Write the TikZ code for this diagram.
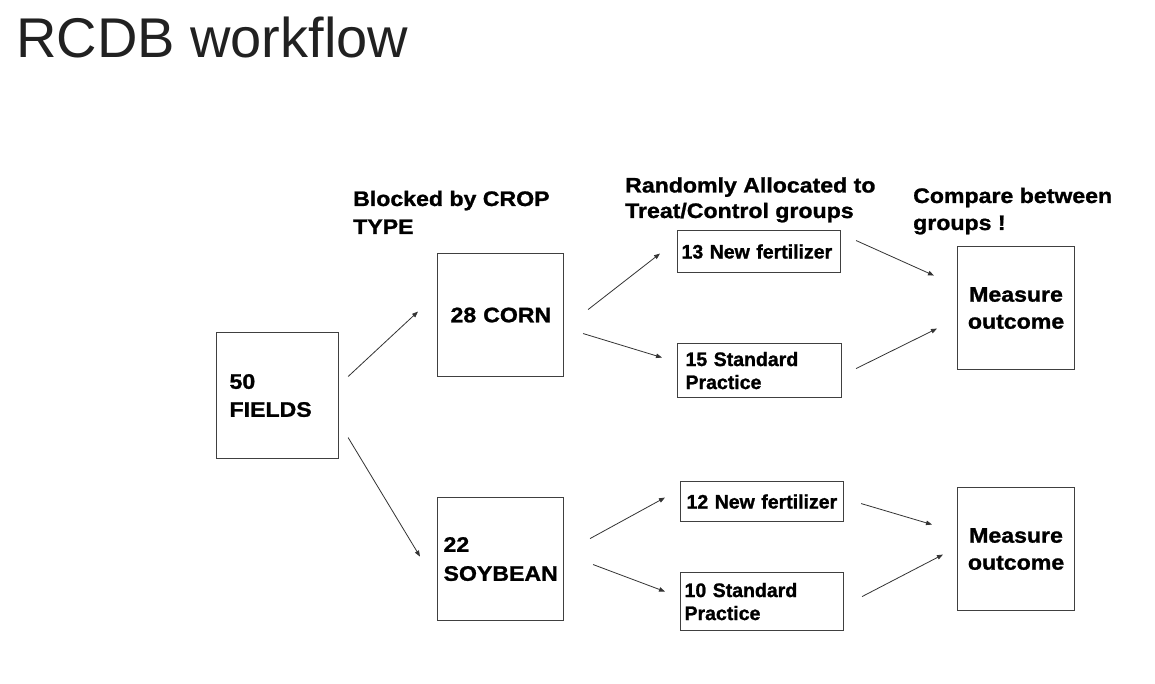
\documentclass[tikz,border=0pt]{standalone}
\usepackage{fontspec}
\setmainfont{Liberation Sans}[BoldFeatures={FakeBold=1.2}]
\newfontfamily\diagfont{Liberation Sans}[FakeStretch=1.1, BoldFeatures={FakeBold=1.2}]
\usetikzlibrary{arrows.meta}
\hyphenpenalty=10000

\begin{document}
\begin{tikzpicture}[x=1pt,y=-1pt]
    \useasboundingbox[fill=white] (0,0) rectangle (1155,684);
    \tikzset{BoxStyle/.style={draw=black!75, line width=1.1pt, inner ysep=0pt,
        align=left, anchor=north west,
        font=\diagfont\bfseries\fontsize{21}{28}\selectfont}}
    \tikzset{SmallStyle/.style={BoxStyle, font=\bfseries\fontsize{19.5}{23}\selectfont}}
    \tikzset{HeadStyle/.style={anchor=base west, inner sep=0pt, align=left,
        font=\diagfont\bfseries\fontsize{21}{28}\selectfont}}

    \node[anchor=base west, inner sep=0pt, text=black!87,
        font=\fontsize{56}{60}\selectfont] (title) at (16,58) {RCDB workflow};

    % headers (base = last line)
    \node[HeadStyle] (hblock) at (353,234) {Blocked by CROP\\TYPE};
    \node[HeadStyle, font=\diagfont\bfseries\fontsize{21}{25.5}\selectfont] (hrand) at (625,218) {Randomly Allocated to\\Treat/Control groups};
    \node[HeadStyle, font=\diagfont\bfseries\fontsize{21}{27}\selectfont] (hcomp) at (913,230) {Compare between\\groups !};

    \node[BoxStyle, text width=96pt, inner xsep=13pt, minimum height=126pt] (fields) at (216,332) {50\\FIELDS};
    \node[BoxStyle, text width=100pt, inner xsep=13pt, minimum height=123pt] (corn) at (437,253) {\mbox{28 CORN}};
    \node[BoxStyle, text width=114pt, inner xsep=6pt, minimum height=123pt,
        font=\diagfont\bfseries\fontsize{21}{29}\selectfont] (soy) at (437,497) {22\\SOYBEAN};

    \node[SmallStyle, text width=155pt, inner xsep=4pt, minimum height=42pt] (nf13) at (677,230) {\mbox{13 New fertilizer}};
    \node[SmallStyle, text width=148pt, inner xsep=8pt, minimum height=54pt] (sp15) at (677,343) {15 Standard\\Practice};
    \node[SmallStyle, text width=151pt, inner xsep=6pt, minimum height=40pt] (nf12) at (680,481) {\mbox{12 New fertilizer}};
    \node[SmallStyle, text width=155pt, inner xsep=4pt, minimum height=58pt] (sp10) at (680,572) {10 Standard\\Practice};

    \tikzset{BoxStyle/.append style={align=center, font=\diagfont\bfseries\fontsize{21}{27}\selectfont}}
    \node[BoxStyle, text width=117pt, inner xsep=0pt, minimum height=123pt] (meas1) at (957,246) {Measure\\outcome};
    \node[BoxStyle, text width=117pt, inner xsep=0pt, minimum height=123pt] (meas2) at (957,487) {Measure\\outcome};

    \tikzset{EdgeStyle/.style={->, draw=black!80, line width=0.8pt,
        >={Triangle[length=6pt, width=4.5pt]}}}

    \draw[EdgeStyle] ([shift={(9,-19)}]fields.east) -- ([shift={(-19,-3.5)}]corn.west);
    \draw[EdgeStyle] ([shift={(9,42)}]fields.east) -- ([shift={(-17,-2.5)}]soy.west);

    \draw[EdgeStyle] ([shift={(24,-5.5)}]corn.east) -- ([shift={(-17,2)}]nf13.west);
    \draw[EdgeStyle] ([shift={(19,18.5)}]corn.east) -- ([shift={(-15,-13)}]sp15.west);
    \draw[EdgeStyle] ([shift={(26,-20.5)}]soy.east) -- ([shift={(-15,-4)}]nf12.west);
    \draw[EdgeStyle] ([shift={(29,5.5)}]soy.east) -- ([shift={(-15,-10)}]sp10.west);

    \draw[EdgeStyle] ([shift={(15,-11)}]nf13.east) -- ([shift={(-23,-32.5)}]meas1.west);
    \draw[EdgeStyle] ([shift={(14,-2)}]sp15.east) -- ([shift={(-20,20.5)}]meas1.west);
    \draw[EdgeStyle] ([shift={(17,2)}]nf12.east) -- ([shift={(-25,-24.5)}]meas2.west);
    \draw[EdgeStyle] ([shift={(18,-5)}]sp10.east) -- ([shift={(-14,5.5)}]meas2.west);
\end{tikzpicture}
\end{document}
